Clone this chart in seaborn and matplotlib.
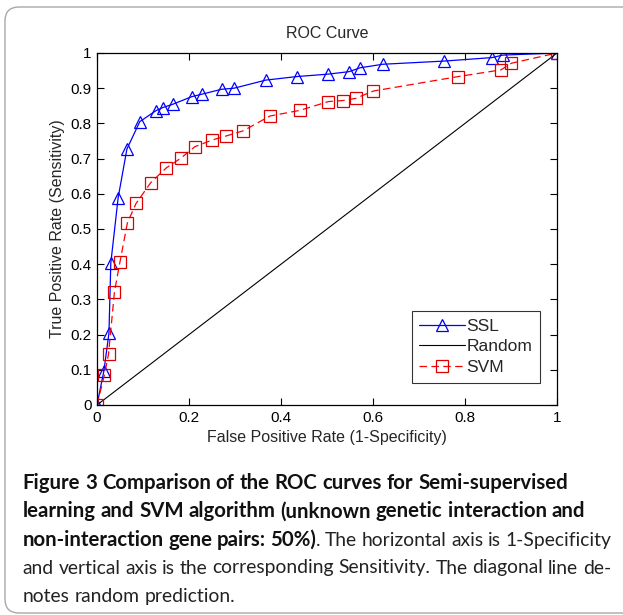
import matplotlib
matplotlib.use('Agg')
import matplotlib.pyplot as plt
import seaborn as sns
from matplotlib.patches import FancyBboxPatch

# ROC points
ssl_fpr = [0.0, 0.015, 0.026, 0.030, 0.046, 0.065, 0.093, 0.128, 0.143, 0.166, 0.206,
           0.228, 0.271, 0.298, 0.367, 0.434, 0.503, 0.548, 0.572, 0.621, 0.754,
           0.859, 0.882, 1.0]
ssl_tpr = [0.0, 0.097, 0.204, 0.403, 0.589, 0.727, 0.805, 0.836, 0.845, 0.855, 0.876,
           0.883, 0.897, 0.900, 0.923, 0.933, 0.940, 0.947, 0.958, 0.968, 0.977,
           0.987, 0.994, 1.0]

svm_fpr = [0.0, 0.016, 0.025, 0.038, 0.050, 0.066, 0.085, 0.117, 0.151, 0.182, 0.213,
           0.251, 0.280, 0.318, 0.376, 0.441, 0.503, 0.535, 0.562, 0.601, 0.785,
           0.878, 0.901, 1.0]
svm_tpr = [0.0, 0.085, 0.144, 0.322, 0.407, 0.517, 0.573, 0.632, 0.674, 0.701, 0.734,
           0.753, 0.764, 0.779, 0.821, 0.837, 0.862, 0.865, 0.871, 0.892, 0.933,
           0.952, 0.971, 1.0]

rand_fpr = [0.0, 1.0]
rand_tpr = [0.0, 1.0]

sns.set_style("ticks")
plt.rcParams['font.family'] = ['Liberation Sans', 'DejaVu Sans']

fig = plt.figure(figsize=(6.23, 6.15), dpi=100)
ax = fig.add_axes([97 / 623, 1 - 405 / 615, 460 / 623, 352 / 615])

sns.lineplot(x=ssl_fpr, y=ssl_tpr, ax=ax, color='#0000ff', lw=0.9, marker='^',
             markersize=8, markerfacecolor='none', markeredgecolor='#0000ff',
             markeredgewidth=0.9, estimator=None, sort=False, label='SSL')
sns.lineplot(x=rand_fpr, y=rand_tpr, ax=ax, color='black', lw=0.8,
             estimator=None, sort=False, label='Random')
sns.lineplot(x=svm_fpr, y=svm_tpr, ax=ax, color='#ff0000', lw=0.9, ls=(0, (6, 3.5)),
             marker='s', markersize=8, markerfacecolor='none', markeredgecolor='#dd0000',
             markeredgewidth=0.9, estimator=None, sort=False, label='SVM')

ax.set_xlim(0, 1)
ax.set_ylim(0, 1)
ax.set_xticks([0, 0.2, 0.4, 0.6, 0.8, 1])
ax.set_xticklabels(['0', '0.2', '0.4', '0.6', '0.8', '1'])
ax.set_yticks([i / 10 for i in range(11)])
ax.set_yticklabels(['0'] + ['%.1f' % (i / 10) for i in range(1, 10)] + ['1'])
ax.tick_params(direction='in', top=True, right=True, length=5, width=0.8,
               labelsize=11, colors='black', pad=4)
for s in ax.spines.values():
    s.set_visible(True)
    s.set_linewidth(0.9)
    s.set_color('black')

ax.set_title('ROC Curve', fontsize=11.5, pad=11)
ax.set_xlabel('False Positive Rate (1-Specificity)', fontsize=11.5, labelpad=4)
ax.set_ylabel('True Positive Rate (Sensitivity)', fontsize=11.5, labelpad=4)

leg = ax.legend(loc='lower right', bbox_to_anchor=(0.963, 0.0625), fontsize=12.5,
                frameon=True, fancybox=False, edgecolor='black', handlelength=2.6,
                handletextpad=0.1, borderpad=0.45, labelspacing=0.32, borderaxespad=0)
leg.get_frame().set_linewidth(0.8)

# rounded frame around the whole figure
frame = FancyBboxPatch((0.05, 0.02), 6.5, 6.06, boxstyle='round,pad=0,rounding_size=0.14',
                       transform=fig.dpi_scale_trans, facecolor='none',
                       edgecolor='#a8a8a8', lw=1.0)
fig.patches.append(frame)

# caption (justified lines drawn word by word)
cap_font = ['Lato', 'DejaVu Sans']
x_left = 22.5
x_right = 611
fs_b = 14.65
fs_r = 13.9
renderer = fig.canvas.get_renderer()


def put(x, y, s, bold):
    return fig.text(x / 623, y, s, fontsize=fs_b if bold else fs_r,
                    fontweight='bold' if bold else 'normal', family=cap_font,
                    va='baseline', ha='left', color='#111111' if bold else '#222222')


def caption_line(words, yb, justify):
    # words: list of word pieces [(text, bold), ...]
    y = 1 - yb / 615
    widths = []
    for pieces in words:
        w = 0
        for s, b in pieces:
            t = put(0, y, s, b)
            w += t.get_window_extent(renderer).width
            t.remove()
        widths.append(w)
    if justify and len(words) > 1:
        gap = (x_right - x_left - sum(widths)) / (len(words) - 1)
    else:
        t = put(0, y, ' ', words[0][0][1])
        gap = t.get_window_extent(renderer).width
        t.remove()
    x = x_left
    for pieces, w in zip(words, widths):
        xx = x
        for s, b in pieces:
            t = put(xx, y, s, b)
            xx += t.get_window_extent(renderer).width
        x += w + gap


def words_of(text, bold):
    return [[(w, bold)] for w in text.split(' ')]


line3 = words_of('non-interaction gene pairs:', True) + [[('50%)', True), ('.', False)]] \
    + words_of('The horizontal axis is 1-Specificity', False)
caption_line(words_of('Figure 3 Comparison of the ROC curves for Semi-supervised', True), 489.3, False)
caption_line(words_of('learning and SVM algorithm (unknown genetic interaction and', True), 517.3, False)
caption_line(line3, 545.7, True)
caption_line(words_of('and vertical axis is the corresponding Sensitivity. The diagonal line de-', False),
             573.5, True)
caption_line(words_of('notes random prediction.', False), 601.7, False)

fig.savefig('out.png', dpi=100)
